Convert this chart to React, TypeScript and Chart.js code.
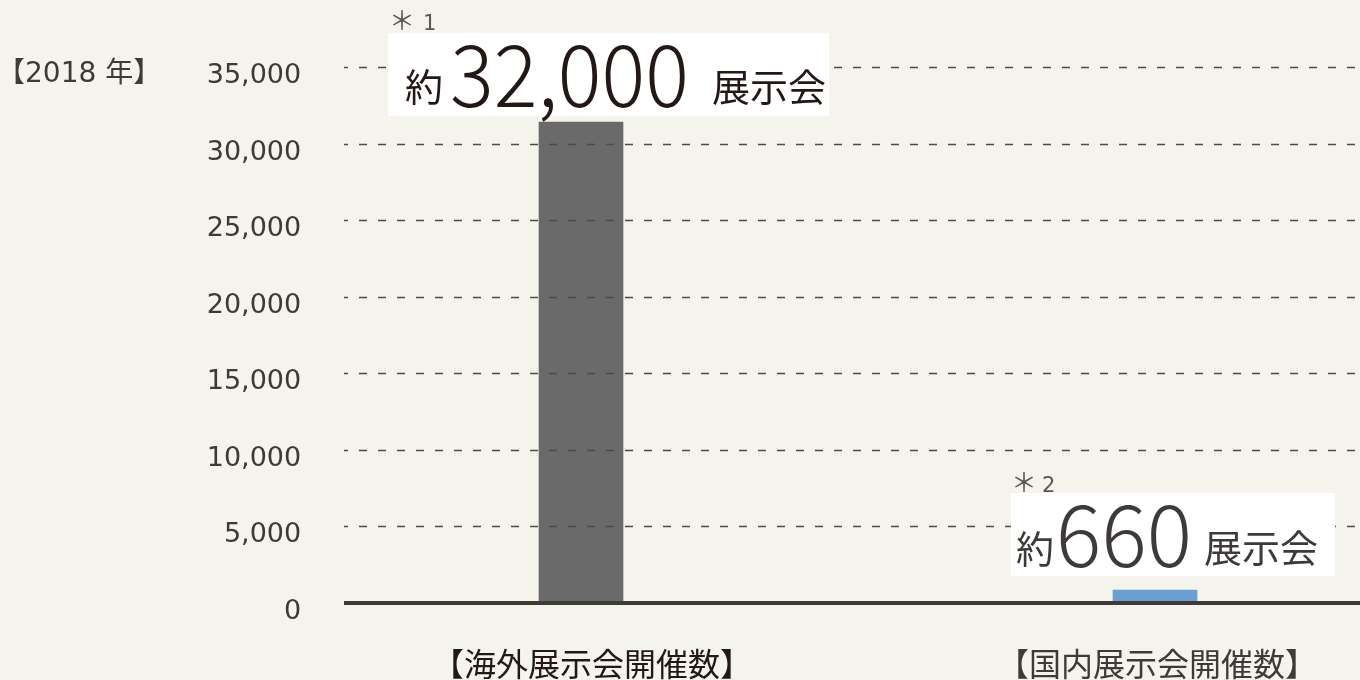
import React, { useEffect, useRef } from 'react';
import { Chart, registerables } from 'chart.js';

Chart.register(...registerables);

// ---------- data ----------
const categories = ['【海外展示会開催数】', '【国内展示会開催数】'];
const barPositions = [0, 1];
const barValues = [31400, 850];
const calloutPrefix = ['約', '約'];
const calloutNumbers = ['32,000', '660'];
const calloutSuffix = ['展示会', '展示会'];
const footnoteMarks = ['＊', '＊'];
const footnoteNumbers = ['1', '2'];
const yearLabel = '【2018 年】';
const yTickStep = 5000;
const yMax = 35000;

// ---------- styles ----------
const BG = '#f4f3ec';
const barColors = ['#6a6a6a', '#6aa0d1'];
const textDark = '#3e3a39';
const CJK = '"Noto Sans CJK JP", "Noto Sans", sans-serif';
const NUM = '"DejaVu Sans", "Noto Sans CJK JP", sans-serif';

const calloutStyles = [
  {
    boxLeft: -193, boxRight: 248, gap: 6, height: 83,
    prefixLeft: 17, prefixBottom: -11,
    numberLeft: 64, numberBaseline: -9, numberWidth: 233,
    suffixRight: -4, suffixBottom: -11,
    markLeft: 5, markBottom: -3, markNumLeft: 37,
    color: '#231815',
  },
  {
    boxLeft: -144, boxRight: 180, gap: 14, height: 83,
    prefixLeft: 5, prefixBottom: -9,
    numberLeft: 49, numberBaseline: -9, numberWidth: 128,
    suffixRight: -18, suffixBottom: -10,
    markLeft: 4, markBottom: -1, markNumLeft: 32,
    color: '#3e3a39',
  },
];
const categoryLabelStyles = [
  { dx: 11, inkTop: 648, color: '#231815' },
  { dx: 2, inkTop: 648, color: '#3e3a39' },
];

type Anchor = { left?: number; right?: number; centerX?: number; bottom?: number; top?: number; baseline?: number };

function placeText(ctx: CanvasRenderingContext2D, text: string, font: string, color: string, a: Anchor, targetWidth?: number) {
  ctx.save();
  ctx.font = font;
  ctx.fillStyle = color;
  ctx.textAlign = 'left';
  ctx.textBaseline = 'alphabetic';
  const m = ctx.measureText(text);
  const inkW = m.actualBoundingBoxLeft + m.actualBoundingBoxRight;
  const sx = targetWidth ? targetWidth / inkW : 1;
  let inkLeft: number;
  if (a.left !== undefined) inkLeft = a.left;
  else if (a.right !== undefined) inkLeft = a.right - inkW * sx;
  else inkLeft = (a.centerX as number) - (inkW * sx) / 2;
  let y: number;
  if (a.baseline !== undefined) y = a.baseline;
  else if (a.bottom !== undefined) y = a.bottom - m.actualBoundingBoxDescent;
  else y = (a.top as number) + m.actualBoundingBoxAscent;
  ctx.translate(inkLeft, y);
  ctx.scale(sx, 1);
  ctx.fillText(text, m.actualBoundingBoxLeft, 0);
  ctx.restore();
}

const overlayPlugin = {
  id: 'overlay',
  beforeDraw(chart: any) {
    const { ctx, width, height } = chart;
    ctx.save();
    ctx.fillStyle = BG;
    ctx.fillRect(0, 0, width, height);
    ctx.restore();
  },
  afterDatasetsDraw(chart: any) {
    const { ctx, chartArea } = chart;
    const yScale = chart.scales.y;

    // dashed grid lines (drawn over the bars)
    ctx.save();
    ctx.strokeStyle = '#4d4b4a';
    ctx.lineWidth = 1.3;
    ctx.setLineDash([8, 11]);
    ctx.lineDashOffset = 4;
    yScale.ticks.forEach((t: any) => {
      if (t.value === 0) return;
      const y = Math.round(yScale.getPixelForValue(t.value)) + 0.5;
      ctx.beginPath();
      ctx.moveTo(chartArea.left, y);
      ctx.lineTo(chartArea.right, y);
      ctx.stroke();
    });
    ctx.restore();

    // zero line
    ctx.save();
    ctx.strokeStyle = textDark;
    ctx.lineWidth = 4;
    const y0 = yScale.getPixelForValue(0);
    ctx.beginPath();
    ctx.moveTo(chartArea.left, y0);
    ctx.lineTo(chartArea.right, y0);
    ctx.stroke();
    ctx.restore();

    // y tick labels
    yScale.ticks.forEach((t: any) => {
      const y = yScale.getPixelForValue(t.value);
      placeText(ctx, t.value.toLocaleString('en-US'), `27px ${NUM}`, textDark, { right: 300, baseline: y + 16 });
    });

    // year label
    placeText(ctx, yearLabel, `28px ${NUM}`, textDark, { left: 15, baseline: 82 });

    // callouts + category labels
    const meta = chart.getDatasetMeta(0);
    meta.data.forEach((bar: any, i: number) => {
      const s = calloutStyles[i];
      const cx = bar.x;
      const boxBottom = bar.y - s.gap;
      const boxTop = boxBottom - s.height;
      const left = cx + s.boxLeft;
      const right = cx + s.boxRight;
      ctx.save();
      ctx.fillStyle = '#ffffff';
      ctx.fillRect(left, boxTop, right - left, boxBottom - boxTop);
      ctx.restore();
      placeText(ctx, calloutPrefix[i], `38px ${CJK}`, s.color, { left: left + s.prefixLeft, bottom: boxBottom + s.prefixBottom });
      placeText(ctx, calloutNumbers[i], `300 86px ${CJK}`, s.color, { left: left + s.numberLeft, baseline: boxBottom + s.numberBaseline }, s.numberWidth);
      placeText(ctx, calloutSuffix[i], `38px ${CJK}`, s.color, { right: right + s.suffixRight, bottom: boxBottom + s.suffixBottom });
      placeText(ctx, footnoteMarks[i], `26px ${CJK}`, '#595757', { left: left + s.markLeft, bottom: boxTop + s.markBottom });
      placeText(ctx, footnoteNumbers[i], `21px ${NUM}`, '#595757', { left: left + s.markNumLeft, baseline: boxTop + s.markBottom });

      const ls = categoryLabelStyles[i];
      placeText(ctx, categories[i], `32px ${CJK}`, ls.color, { centerX: cx + ls.dx, top: ls.inkTop });
    });
  },
};

export default function App() {
  const ref = useRef<HTMLCanvasElement | null>(null);
  useEffect(() => {
    document.body.style.margin = '0';
    document.body.style.background = BG;
    const canvas = ref.current;
    if (!canvas) return;
    const chart = new Chart(canvas, {
      type: 'bar',
      data: {
        datasets: [
          {
            data: barPositions.map((x, i) => ({ x, y: barValues[i] })),
            backgroundColor: barColors,
            borderWidth: 0,
            barThickness: 84,
          } as any,
        ],
      },
      options: {
        responsive: false,
        maintainAspectRatio: false,
        devicePixelRatio: 1,
        animation: false,
        events: [],
        layout: { padding: { top: 67, bottom: 77, left: 0, right: 0 } },
        plugins: { legend: { display: false }, tooltip: { enabled: false } },
        scales: {
          x: { type: 'linear', min: -0.4129, max: 1.3571, offset: false, display: false, grid: { offset: false } },
          y: {
            min: 0,
            max: yMax,
            ticks: { stepSize: yTickStep, display: false },
            grid: { display: false },
            border: { display: false },
            afterFit: (s: any) => { s.width = 344; },
          },
        },
      } as any,
      plugins: [overlayPlugin],
    });
    return () => chart.destroy();
  }, []);
  return (
    <div style={{ position: 'absolute', left: 0, top: 0, width: 1360, height: 680, background: BG }}>
      <canvas ref={ref} width={1360} height={680} />
    </div>
  );
}
